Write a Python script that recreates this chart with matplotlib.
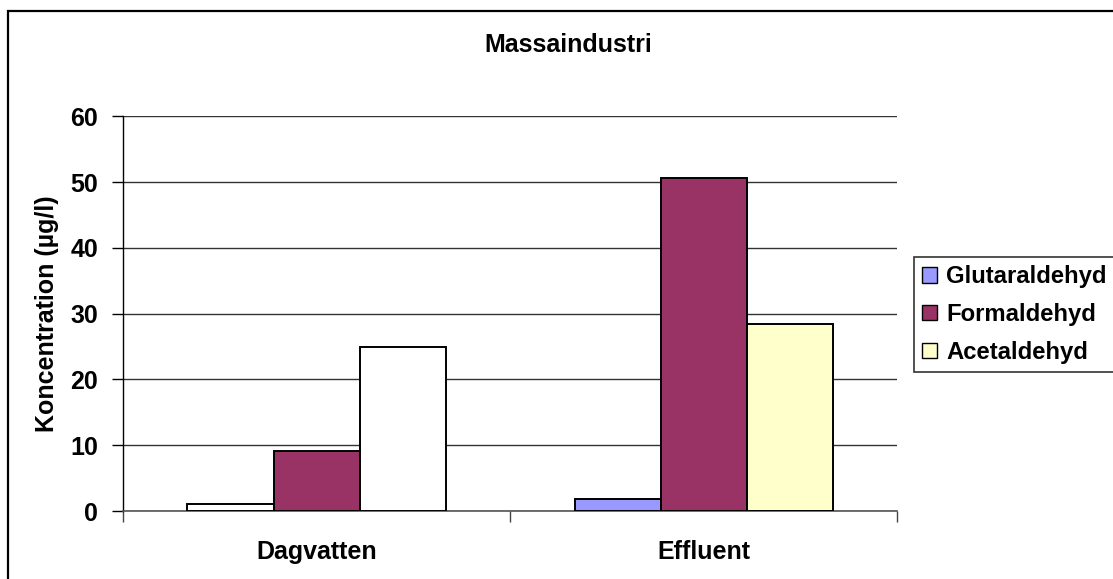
import numpy as np
import matplotlib.pyplot as plt
from matplotlib.patches import Rectangle, Patch

# concentrations per sampling point (µg/l)
categories = ["Dagvatten", "Effluent"]
series_names = ["Glutaraldehyd", "Formaldehyd", "Acetaldehyd"]
glutaraldehyd = [1.0, 1.8]
formaldehyd = [9.1, 50.6]
acetaldehyd = [24.9, 28.5]
values = [glutaraldehyd, formaldehyd, acetaldehyd]

colors = ["#9999FF", "#993366", "#FFFFCC"]
# Dagvatten has glutaraldehyd and acetaldehyd drawn without fill
point_fill = [["white", colors[0]], [colors[1], colors[1]], ["white", colors[2]]]

plt.rcParams['font.family'] = ['Liberation Sans', 'DejaVu Sans']
plt.rcParams['font.weight'] = 'bold'
fs = 18

fig = plt.figure(figsize=(11.13, 5.79), dpi=100)
ax = fig.add_axes([0.1105, 0.1174, 0.806 - 0.1105, 0.7991 - 0.1174])

# outer chart border (runs off the right and bottom edges)
fig.patches.append(Rectangle((8 / 1113, -0.1), 1.2, 1.1 - 11 / 579,
                             transform=fig.transFigure, fill=False,
                             edgecolor="black", linewidth=1.6, zorder=0))

bw = 1 / 4.5
centers = np.arange(len(categories)) + 0.5
for i, vals in enumerate(values):
    xs = centers + (i - 1) * bw
    ax.bar(xs, vals, width=bw, color=point_fill[i], edgecolor="black",
           linewidth=1.4, zorder=3)

ax.set_xlim(0, 2)
ax.set_ylim(0, 60)
ax.set_yticks(np.arange(0, 61, 10))
ax.yaxis.grid(True, color="#333333", linewidth=1.0, zorder=0)
ax.set_axisbelow(True)

ax.set_xticks([0, 1, 2])
ax.set_xticklabels([])
ax.set_xticks(centers, minor=True)
ax.set_xticklabels(categories, minor=True, fontsize=fs, fontweight='bold')
ax.tick_params(axis='x', which='minor', length=0, pad=21)
ax.tick_params(axis='x', which='major', length=8, width=1, color="#444444")
ax.tick_params(axis='y', length=8, width=1, labelsize=fs, pad=10)

for s in ["top", "right"]:
    ax.spines[s].set_visible(False)
ax.spines["left"].set_linewidth(1.0)
ax.spines["bottom"].set_color("#555555")
ax.spines["bottom"].set_linewidth(1.2)

ax.set_ylabel("Koncentration (µg/l)", fontsize=fs, fontweight='bold', labelpad=8)
fig.text(568 / 1113, 1 - 45 / 579, "Massaindustri", ha="center", va="center",
         fontsize=fs, fontweight='bold')

handles = [Patch(facecolor=c, edgecolor="black", linewidth=1.0) for c in colors]
leg = fig.legend(handles, series_names, loc="upper left",
                 bbox_to_anchor=(914 / 1113, 1 - 257 / 579),
                 prop={'size': 17.2, 'weight': 'bold'}, frameon=True,
                 fancybox=False, edgecolor="black",
                 handlelength=0.6, handleheight=0.6, handletextpad=0.4,
                 borderpad=0.35, labelspacing=0.62, borderaxespad=0)
leg.get_frame().set_linewidth(1.2)

fig.savefig("out.png", dpi=100)
